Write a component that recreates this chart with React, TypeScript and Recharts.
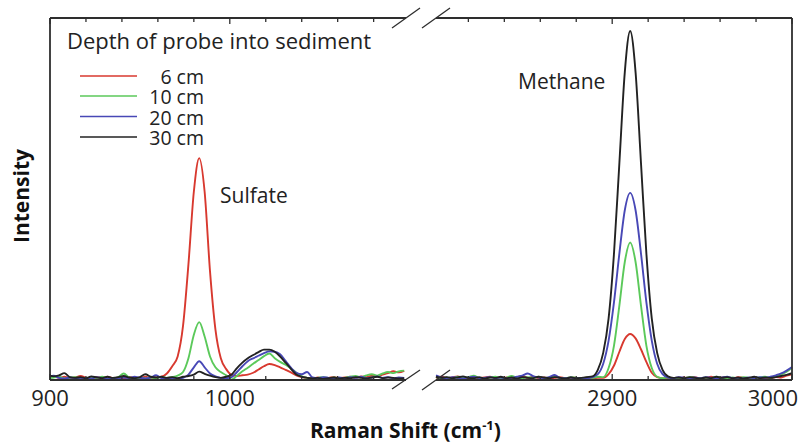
import { Line, LineChart, XAxis, YAxis } from "recharts"

// Raman shift (cm-1) sampled on each side of the axis break
const lowShift = [
  900, 902, 905, 908, 911, 914, 917, 920, 923, 926, 929, 932, 935, 938, 941, 944, 947, 950, 953, 956, 959, 962,
  965, 968, 971, 974, 977, 980, 983, 986, 989, 992, 995, 998, 1001,
  1004, 1007, 1010, 1013, 1016, 1019, 1022, 1025, 1028, 1031, 1034, 1037, 1040, 1043,
  1046, 1049, 1052, 1055, 1058, 1061, 1064, 1067, 1070, 1073, 1076, 1079, 1082, 1085, 1088, 1091, 1094, 1097,
]
const highShift = [
  2802, 2805, 2808, 2811, 2814, 2817, 2820, 2823, 2826, 2829, 2832, 2835, 2838, 2841, 2844, 2847, 2850, 2853,
  2856, 2859, 2862, 2865, 2868, 2871, 2874, 2877, 2880,
  2883, 2886, 2889, 2892, 2895, 2898, 2901, 2904, 2907, 2910, 2913, 2916, 2919, 2922, 2925, 2928, 2931, 2934, 2937,
  2940, 2943, 2946, 2949, 2952, 2955, 2958, 2961, 2964, 2967, 2970, 2973, 2976, 2979, 2982, 2985, 2988, 2991,
  2994, 2997, 3000,
]

// Intensity around the sulfate band
const low6cm = [
  0.8, 1.0, 0.6, 0.9, 0.5, 0.7, 1.1, 0.6, 0.4, 0.8, 0.6, 0.9, 0.5, 0.7, 0.4, 0.8, 0.6, 0.5, 0.9, 0.6, 0.7, 0.9,
  1.8, 3.8, 6.5, 15, 32, 52, 61.3, 52, 30, 14, 6, 3, 1.4,
  1.1, 1.3, 1.5, 2.0, 2.9, 3.8, 4.4, 4.1, 3.5, 2.8, 2.1, 1.3, 0.8, 0.6,
  0.5, 0.7, 0.4, 0.6, 0.8, 0.5, 0.7, 0.9, 0.6, 1.0, 0.8, 1.2, 1.0, 1.5, 1.9, 2.4, 2.1, 2.5,
]
const low10cm = [
  0.5, 0.7, 0.9, 0.4, 0.6, 0.8, 0.5, 0.3, 0.7, 0.6, 0.9, 0.5, 0.4, 0.8, 1.8, 0.7, 0.5, 0.6, 0.4, 0.7, 0.5, 0.8,
  0.6, 0.8, 1.2, 2.2, 6, 12.5, 16, 12, 6.5, 3.5, 2.2, 1.3, 0.1,
  1.2, 2.4, 3.4, 4.5, 5.5, 6.6, 7.3, 6.0, 5.0, 4.2, 3.2, 2.0, 1.0, 0.6,
  0.4, 0.6, 0.8, 0.5, 0.7, 0.4, 0.6, 0.9, 1.1, 0.8, 1.3, 1.6, 1.2, 1.8, 2.2, 1.9, 2.4, 2.6,
]
const low20cm = [
  0.9, 1.2, 0.6, 0.4, 0.7, 0.5, 0.3, 0.6, 0.4, 0.8, 0.5, 0.3, 0.6, 0.4, 0.7, 0.5, 0.9, 0.6, 0.4, 0.7, 1.3, 0.5,
  0.3, 0.5, 0.4, 0.6, 1.5, 3.5, 5.2, 3.5, 1.8, 1.0, 0.6, 0.5, 0.8,
  2.2, 3.8, 5.2, 6.0, 6.7, 7.4, 7.9, 7.8, 7.1, 5.3, 3.4, 2.0, 1.6, 2.2,
  0.7, 0.5, 0.8, 0.6, 0.4, 0.7, 0.5, 0.8, 0.6, 0.9, 0.5, 0.7, 1.0, 0.6, 0.8, 0.5, 0.7, 0.6,
]
const low30cm = [
  1.2, 1.0, 1.3, 1.9, 0.8, 0.6, 0.8, 0.5, 1.0, 0.7, 0.5, 0.9, 0.6, 0.8, 1.1, 0.7, 0.5, 0.8, 1.6, 0.9, 0.7, 0.9,
  0.6, 0.8, 0.5, 0.9, 1.1, 1.5, 2.3, 1.7, 1.2, 0.8, 0.6, 0.9, 1.5,
  3.3, 4.8, 6.0, 6.9, 7.7, 8.4, 8.4, 7.8, 6.5, 4.8, 3.1, 1.5, 0.9, 0.6,
  0.4, 0.6, 0.3, 0.5, 0.7, 0.4, 0.6, 0.5, 0.8, 0.6, 0.4, 0.7, 0.9, 0.5, 0.7, 0.6, 0.4, 0.5,
]

// Intensity around the methane band
const high6cm = [
  0.6, 0.9, 0.5, 0.7, 1.0, 0.6, 0.4, 0.8, 0.5, 0.7, 0.9, 0.6, 0.4, 0.7, 0.5, 0.8, 1.1, 0.6, 0.9, 0.5, 0.7, 0.4,
  0.6, 0.8, 0.5, 0.7, 0.6,
  0.5, 0.7, 0.4, 0.6, 0.6, 1.6, 4, 7.8, 11.3, 12.7, 11.5, 8.5, 5, 2, 0.8, 0.5, 0.4, 0.6, 0.5,
  0.7, 0.5, 0.8, 0.4, 0.6, 0.9, 0.5, 0.7, 0.6, 0.4, 0.8, 0.6, 0.5, 0.7, 0.4, 0.6, 0.5, 0.8, 0.7, 1.2, 1.6,
]
const high10cm = [
  0.8, 0.5, 0.7, 0.4, 0.9, 0.6, 0.8, 1.2, 0.6, 0.5, 0.7, 0.9, 0.5, 0.6, 1.1, 0.7, 0.5, 0.8, 0.6, 0.9, 0.4, 0.7,
  1.0, 0.6, 0.5, 0.8, 0.6,
  0.5, 0.7, 0.6, 0.9, 0.8, 3.3, 9.5, 20.6, 32.6, 38, 32.6, 20.6, 9.5, 3.3, 0.9, 0.5, 0.7, 0.4, 0.6,
  0.5, 0.8, 0.6, 0.4, 0.7, 0.5, 0.9, 0.6, 0.4, 0.7, 0.5, 0.8, 0.6, 0.5, 0.7, 0.9, 0.6, 1.0, 1.5, 2.3, 3.4,
]
const high20cm = [
  1.3, 0.7, 0.5, 0.8, 0.6, 0.4, 0.7, 0.9, 0.5, 0.6, 0.8, 0.5, 0.7, 0.4, 0.6, 0.9, 1.2, 1.8, 1.1, 0.7, 0.5, 0.8,
  1.4, 0.6, 0.5, 0.7, 0.4,
  0.6, 0.5, 0.8, 1.6, 4.5, 10.9, 21.5, 35, 46.9, 51.7, 46.9, 35, 21.5, 10.9, 4.5, 1.6, 0.7, 0.5, 0.8,
  0.6, 0.4, 0.7, 0.5, 0.8, 0.6, 0.4, 0.7, 0.9, 0.5, 0.6, 0.4, 0.7, 0.5, 0.8, 0.6, 0.9, 1.3, 1.8, 2.6, 3.6,
]
const high30cm = [
  0.9, 0.6, 0.8, 0.5, 0.7, 1.0, 0.6, 0.5, 0.8, 0.4, 0.7, 0.6, 0.9, 0.5, 0.7, 0.4, 0.8, 0.6, 0.5, 0.9, 0.7, 0.5,
  0.8, 0.6, 0.4, 0.7, 0.5,
  0.6, 0.8, 1.0, 2.8, 7.5, 17, 35, 60, 85, 96.4, 85, 60, 35, 17, 7.5, 2.8, 1.0, 0.6, 0.7,
  0.5, 0.8, 0.6, 0.4, 0.7, 0.5, 0.9, 0.6, 0.8, 0.5, 0.7, 0.4, 0.6, 0.9, 0.5, 0.7, 0.6, 0.8, 1.1, 1.4, 1.9,
]

const depthLabels = ["6 cm", "10 cm", "20 cm", "30 cm"]
const lowTicks = [900, 920, 940, 960, 980, 1000, 1020, 1040, 1060, 1080]
const highTicks = [2820, 2840, 2860, 2880, 2900, 2920, 2940, 2960, 2980, 3000]
const lowTickLabels = [900, 1000]
const highTickLabels = [2900, 3000]

const FONT = "'Open Sans', 'Liberation Sans', sans-serif"
const AXIS = "#2e2e2e"
const COLORS = ["#d8392f", "#5bc95a", "#4848b6", "#222222"]
const KEYS = ["d6", "d10", "d20", "d30"]

const lowData = lowShift.map((x, i) => ({
  x,
  d6: low6cm[i],
  d10: low10cm[i],
  d20: low20cm[i],
  d30: low30cm[i],
}))

const highData = highShift.map((x, i) => ({
  x,
  d6: high6cm[i],
  d10: high10cm[i],
  d20: high20cm[i],
  d30: high30cm[i],
}))

function FrameTick(props: any) {
  const { x, y, payload, side, labels, last } = props
  const value = payload.value
  const len = value % 100 === 0 ? 6 : 4
  const dir = side === "top" ? 1 : -1
  const showLabel = side === "bottom" && labels.includes(value)
  const isLast = value === last
  return (
    <g>
      <line x1={x} y1={y} x2={x} y2={y + dir * len} stroke={AXIS} strokeWidth={1.3} />
      {showLabel && (
        <text
          x={isLast ? x + 6 : x}
          y={y + 26}
          textAnchor={isLast ? "end" : "middle"}
          fontFamily={FONT}
          fontSize={22}
          fill="#222"
        >
          {value}
        </text>
      )}
    </g>
  )
}

// axes take 1px each (a 0px axis is not drawn), the margins make up for it
function Panel({ data, domain, ticks, labels, last, rightSide }: any) {
  return (
    <LineChart
      width={rightSide ? 386 : 420}
      height={443}
      data={data}
      margin={{ top: 17, right: rightSide ? 13 : 14, bottom: 62, left: rightSide ? 16 : 49 }}
    >
      <XAxis
        xAxisId="bottom"
        dataKey="x"
        type="number"
        domain={domain}
        ticks={ticks}
        interval={0}
        height={1}
        tickSize={0}
        tickMargin={0}
        tickLine={false}
        axisLine={{ stroke: AXIS, strokeWidth: 1.8 }}
        tick={(p: any) => <FrameTick {...p} side="bottom" labels={labels} last={last} />}
      />
      <XAxis
        xAxisId="top"
        orientation="top"
        dataKey="x"
        type="number"
        domain={domain}
        ticks={ticks}
        interval={0}
        height={1}
        tickSize={0}
        tickMargin={0}
        tickLine={false}
        axisLine={{ stroke: AXIS, strokeWidth: 1.8 }}
        tick={(p: any) => <FrameTick {...p} side="top" labels={[]} last={last} />}
      />
      <YAxis
        type="number"
        domain={[0, 100]}
        width={1}
        orientation={rightSide ? "right" : "left"}
        tick={false}
        tickLine={false}
        axisLine={{ stroke: AXIS, strokeWidth: 1.8 }}
      />
      {KEYS.map((k, i) => (
        <Line
          key={k}
          xAxisId="bottom"
          dataKey={k}
          type="monotone"
          stroke={COLORS[i]}
          strokeWidth={1.9}
          dot={false}
          isAnimationActive={false}
        />
      ))}
    </LineChart>
  )
}

export default function App() {
  return (
    <div style={{ position: "absolute", left: 0, top: 0, width: 806, height: 443, background: "#fff" }}>
      <div style={{ position: "absolute", left: 0, top: 0 }}>
        <Panel data={lowData} domain={[900, 1098]} ticks={lowTicks} labels={lowTickLabels} last={-1} />
      </div>
      <div style={{ position: "absolute", left: 420, top: 0 }}>
        <Panel data={highData} domain={[2802, 3000]} ticks={highTicks} labels={highTickLabels} last={3000} rightSide />
      </div>
      <svg
        width={806}
        height={443}
        style={{ position: "absolute", left: 0, top: 0, pointerEvents: "none" }}
        fontFamily={FONT}
      >
        {/* axis break marks */}
        <g stroke={AXIS} strokeWidth={1.3}>
          <line x1={392} y1={28} x2={420} y2={8} />
          <line x1={422} y1={28} x2={450} y2={8} />
          <line x1={392} y1={389} x2={420} y2={370} />
          <line x1={422} y1={390} x2={450} y2={370} />
        </g>

        <text x={67} y={49} fontSize={22} fill="#222">
          Depth of probe into sediment
        </text>
        {depthLabels.map((label, i) => {
          const base = [84, 104, 124.5, 145][i]
          return (
            <g key={label}>
              <line x1={80} y1={base - 8} x2={137} y2={base - 8} stroke={COLORS[i]} strokeWidth={1.5} />
              <text x={204} y={base} textAnchor="end" fontSize={19.5} fill="#222">
                {label}
              </text>
            </g>
          )
        })}

        <text x={220} y={203} fontSize={21} fill="#222">
          Sulfate
        </text>
        <text x={518} y={89} fontSize={21} fill="#222">
          Methane
        </text>

        <text
          transform="translate(29, 196) rotate(-90)"
          textAnchor="middle"
          fontSize={21}
          fontWeight="bold"
          fill="#111"
        >
          Intensity
        </text>
        <text x={310} y={438} fontSize={21} fontWeight="bold" fill="#111">
          <tspan>Raman Shift (cm</tspan>
          <tspan dy={-8} fontSize={13}>
            -1
          </tspan>
          <tspan dy={8}>)</tspan>
        </text>
      </svg>
    </div>
  )
}
